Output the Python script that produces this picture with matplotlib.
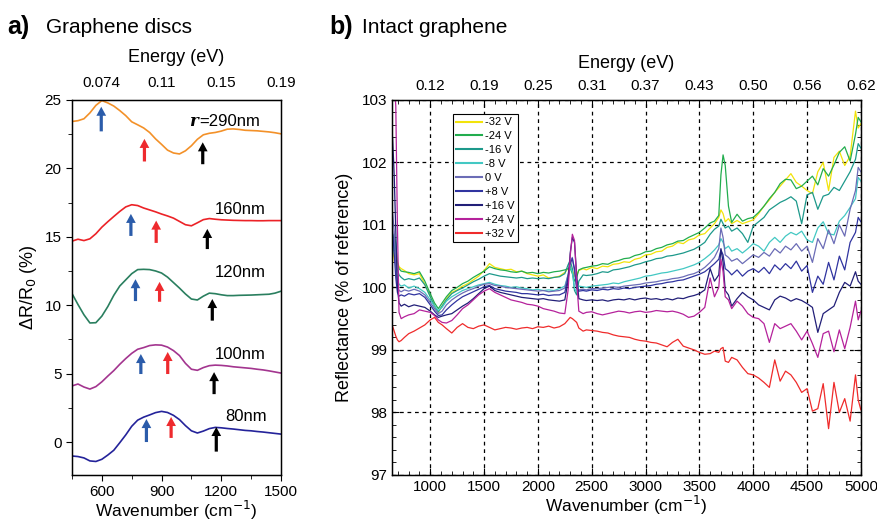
import matplotlib.pyplot as plt
from matplotlib.ticker import MultipleLocator

plt.rcParams['font.family'] = ['Liberation Sans', 'DejaVu Sans']

# ---------------- panel a : graphene discs ----------------
wn_a = [450, 480, 510, 540, 570, 600, 630, 660, 690, 720, 750, 780, 810, 840, 870, 900,
        930, 960, 990, 1020, 1050, 1080, 1110, 1140, 1170, 1200, 1230, 1260, 1290, 1320,
        1350, 1380, 1410, 1440, 1470, 1500]
r290 = [23.42, 23.48, 23.62, 24.05, 24.6, 24.95, 24.78, 24.55, 24.22, 23.85, 23.4, 23.18,
        22.95, 22.62, 22.15, 21.75, 21.33, 21.12, 21.05, 21.28, 21.65, 22.12, 22.45, 22.56,
        22.62, 22.72, 22.86, 22.88, 22.84, 22.78, 22.76, 22.74, 22.7, 22.66, 22.6, 22.52]
r160 = [14.68, 14.82, 14.72, 14.85, 15.22, 15.7, 16.1, 16.48, 16.85, 17.18, 17.34, 17.28,
        17.1, 16.96, 16.82, 16.66, 16.52, 16.36, 16.12, 15.88, 15.8, 16.02, 16.25, 16.33,
        16.28, 16.24, 16.22, 16.2, 16.19, 16.18, 16.18, 16.17, 16.17, 16.18, 16.18, 16.18]
r120 = [10.85, 10.05, 9.3, 8.7, 8.72, 9.2, 9.9, 10.72, 11.4, 11.85, 12.3, 12.6,
        12.62, 12.6, 12.5, 12.35, 12.05, 11.65, 11.25, 10.82, 10.45, 10.38, 10.66, 10.88,
        10.84, 10.76, 10.7, 10.7, 10.72, 10.73, 10.74, 10.76, 10.78, 10.8, 10.88, 11.02]
r100 = [4.1, 4.24, 4.02, 3.87, 4.05, 4.4, 4.82, 5.22, 5.68, 6.1, 6.48, 6.78,
        6.9, 7.05, 7.1, 7.08, 6.94, 6.68, 6.32, 5.75, 5.32, 5.24, 5.44, 5.58,
        5.62, 5.6, 5.56, 5.5, 5.46, 5.42, 5.38, 5.32, 5.27, 5.2, 5.12, 5.04]
r80 = [-1.02, -1.06, -1.16, -1.38, -1.42, -1.26, -0.95, -0.6, -0.05, 0.52, 1.15, 1.6,
       1.82, 1.98, 2.15, 2.24, 2.16, 1.95, 1.64, 1.2, 0.82, 0.66, 0.8, 0.98,
       1.07, 1.04, 0.99, 0.95, 0.9, 0.85, 0.82, 0.77, 0.73, 0.68, 0.63, 0.58]
disc_labels = ['160nm', '120nm', '100nm', '80nm']
disc_label_pos = [(1296, 17.0), (1296, 12.4), (1296, 6.4), (1326, 1.9)]

# arrows: x position, tail, head (one per disc size, top to bottom)
blue_arr = [(597, 22.7, 24.5), (746, 15.06, 16.67), (769, 10.3, 11.9), (796, 4.97, 6.43), (824, 0.0, 1.68)]
red_arr = [(814, 20.5, 22.15), (873, 14.55, 16.18), (890, 10.25, 11.7), (931, 4.97, 6.58), (948, 0.3, 1.83)]
black_arr = [(1107, 20.3, 21.9), (1130, 14.1, 15.57), (1155, 8.87, 10.45), (1164, 3.5, 5.11), (1175, -0.7, 1.1)]

# ---------------- panel b : intact graphene ----------------
wn_b = [650, 665, 680, 695, 710, 730, 760, 800, 850, 900,
        950, 1000, 1040, 1075, 1110, 1150, 1200, 1250, 1300, 1350,
        1400, 1450, 1500, 1550, 1600, 1650, 1700, 1750, 1800, 1850,
        1900, 1950, 2000, 2050, 2100, 2150, 2200, 2250, 2280, 2300,
        2320, 2340, 2360, 2380, 2420, 2450, 2500, 2550, 2600, 2650,
        2700, 2750, 2800, 2850, 2900, 2950, 3000, 3050, 3100, 3150,
        3200, 3250, 3300, 3350, 3400, 3450, 3500, 3550, 3600, 3640,
        3680, 3700, 3720, 3740, 3770, 3800, 3850, 3900, 3950, 4000,
        4050, 4100, 4150, 4200, 4250, 4300, 4350, 4400, 4450, 4500,
        4550, 4600, 4650, 4700, 4750, 4800, 4850, 4900, 4950, 4975,
        5000]
m32 = [100.40, 100.62, 100.66, 100.42, 100.33, 100.30, 100.27, 100.22, 100.20, 100.22,
       100.05, 99.86, 99.70, 99.60, 99.70, 99.82, 99.92, 99.96, 100.02, 100.06,
       100.12, 100.18, 100.27, 100.38, 100.32, 100.30, 100.28, 100.29, 100.25, 100.26,
       100.22, 100.20, 100.18, 100.20, 100.15, 100.16, 100.18, 100.24, 100.30, 100.33,
       100.28, 100.18, 100.20, 100.27, 100.30, 100.28, 100.32, 100.30, 100.34, 100.33,
       100.37, 100.38, 100.41, 100.40, 100.45, 100.47, 100.52, 100.53, 100.57, 100.58,
       100.64, 100.66, 100.72, 100.70, 100.76, 100.78, 100.84, 100.86, 100.95, 101.02,
       101.12, 101.24, 101.18, 101.05, 101.10, 101.02, 101.07, 101.02, 101.05, 101.08,
       101.18, 101.30, 101.40, 101.52, 101.62, 101.72, 101.82, 101.68, 101.62, 101.55,
       101.50, 101.85, 102.00, 101.55, 102.08, 102.18, 101.95, 102.10, 102.82, 102.55,
       102.62]
m24 = [100.55, 100.85, 100.70, 100.40, 100.30, 100.26, 100.25, 100.24, 100.22, 100.25,
       100.10, 99.90, 99.75, 99.66, 99.75, 99.85, 99.95, 100.00, 100.06, 100.10,
       100.16, 100.21, 100.26, 100.33, 100.30, 100.28, 100.27, 100.25, 100.24, 100.26,
       100.23, 100.24, 100.22, 100.24, 100.23, 100.25, 100.26, 100.28, 100.30, 100.31,
       100.22, 100.10, 100.16, 100.28, 100.31, 100.32, 100.34, 100.35, 100.38, 100.37,
       100.41, 100.43, 100.46, 100.47, 100.51, 100.53, 100.57, 100.58, 100.62, 100.64,
       100.68, 100.70, 100.74, 100.75, 100.80, 100.84, 100.88, 100.95, 101.03, 101.06,
       101.15, 101.80, 102.12, 101.95, 101.30, 101.04, 101.17, 101.06, 101.10, 101.12,
       101.20, 101.30, 101.42, 101.52, 101.66, 101.73, 101.72, 101.58, 101.62, 101.70,
       101.78, 101.64, 101.90, 101.78, 101.96, 102.16, 102.25, 102.02, 102.45, 102.72,
       102.65]
m16 = [100.60, 100.83, 100.55, 100.28, 100.20, 100.16, 100.12, 100.14, 100.12, 100.15,
       100.04, 99.85, 99.70, 99.61, 99.70, 99.80, 99.90, 99.95, 99.99, 100.04,
       100.09, 100.13, 100.18, 100.22, 100.20, 100.18, 100.17, 100.16, 100.15, 100.16,
       100.14, 100.15, 100.14, 100.15, 100.14, 100.16, 100.17, 100.22, 100.36, 100.43,
       100.30, 99.95, 99.88, 100.10, 100.20, 100.19, 100.20, 100.22, 100.25, 100.24,
       100.28, 100.29, 100.31, 100.33, 100.36, 100.38, 100.41, 100.43, 100.46, 100.47,
       100.50, 100.51, 100.53, 100.55, 100.58, 100.61, 100.66, 100.72, 100.85, 100.93,
       100.98, 101.09, 101.02, 100.95, 100.98, 100.90, 100.95, 100.86, 100.72, 100.98,
       101.05, 101.12, 101.24, 101.30, 101.36, 101.40, 101.45, 101.38, 101.02, 101.48,
       101.52, 101.25, 101.46, 101.49, 101.60, 101.55, 101.70, 101.85, 102.05, 102.30,
       102.23]
m8 = [100.50, 100.78, 100.45, 100.12, 100.05, 100.02, 100.04, 99.99, 100.02, 99.98,
      99.92, 99.80, 99.70, 99.63, 99.68, 99.78, 99.85, 99.90, 99.95, 99.98,
      100.01, 100.04, 100.06, 100.08, 100.05, 100.03, 100.02, 100.00, 100.01, 99.99,
      99.98, 99.96, 99.97, 99.95, 99.96, 99.95, 99.98, 100.02, 100.20, 100.33,
      100.25, 99.98, 99.93, 100.02, 100.01, 100.00, 100.02, 100.03, 100.04, 100.05,
      100.07, 100.06, 100.09, 100.11, 100.13, 100.15, 100.18, 100.19, 100.21, 100.23,
      100.24, 100.26, 100.28, 100.30, 100.33, 100.36, 100.40, 100.46, 100.53, 100.60,
      100.68, 100.78, 100.72, 100.62, 100.66, 100.58, 100.62, 100.55, 100.62, 100.70,
      100.66, 100.58, 100.72, 100.80, 100.72, 100.82, 100.88, 100.84, 100.90, 100.76,
      100.72, 100.95, 101.05, 100.86, 100.84, 101.06, 101.15, 101.28, 101.42, 101.76,
      101.70]
z0 = [101.20, 100.90, 100.35, 100.02, 99.95, 99.93, 99.96, 99.94, 99.97, 99.94,
      99.88, 99.76, 99.66, 99.58, 99.62, 99.72, 99.80, 99.86, 99.91, 99.95,
      99.98, 100.02, 100.05, 100.06, 100.03, 100.02, 100.00, 99.99, 99.98, 99.97,
      99.96, 99.95, 99.94, 99.95, 99.93, 99.94, 99.95, 99.99, 100.20, 100.42,
      100.48, 100.25, 100.00, 99.96, 99.97, 99.96, 99.98, 99.98, 99.99, 100.00,
      100.01, 100.00, 100.02, 100.03, 100.04, 100.05, 100.07, 100.08, 100.09, 100.11,
      100.12, 100.14, 100.15, 100.17, 100.20, 100.22, 100.26, 100.32, 100.40, 100.48,
      100.62, 100.95, 100.80, 100.52, 100.48, 100.42, 100.46, 100.38, 100.45, 100.52,
      100.48, 100.56, 100.50, 100.62, 100.55, 100.66, 100.60, 100.70, 100.58, 100.66,
      100.40, 100.78, 100.62, 100.92, 100.70, 101.00, 100.82, 101.25, 101.55, 101.92,
      101.85]
p8 = [100.90, 100.55, 100.15, 99.92, 99.86, 99.88, 99.86, 99.90, 99.88, 99.90,
      99.84, 99.72, 99.62, 99.55, 99.56, 99.64, 99.72, 99.79, 99.85, 99.89,
      99.93, 99.97, 100.01, 100.03, 99.98, 99.96, 99.94, 99.93, 99.92, 99.90,
      99.90, 99.89, 99.88, 99.89, 99.87, 99.88, 99.88, 99.92, 100.15, 100.38,
      100.46, 100.30, 99.98, 99.94, 99.95, 99.94, 99.96, 99.95, 99.97, 99.96,
      99.98, 99.97, 99.99, 99.98, 100.00, 100.01, 100.02, 100.03, 100.05, 100.06,
      100.08, 100.09, 100.11, 100.12, 100.15, 100.18, 100.21, 100.25, 100.32, 100.38,
      100.45, 100.60, 100.52, 100.30, 100.26, 100.20, 100.28, 100.18, 100.26, 100.30,
      100.24, 100.32, 100.22, 100.36, 100.28, 100.38, 100.30, 100.42, 100.26, 100.35,
      99.92, 100.18, 100.05, 100.40, 100.12, 100.50, 100.28, 100.72, 100.88, 101.12,
      101.05]
p16 = [102.40, 101.80, 100.90, 100.00, 99.75, 99.70, 99.73, 99.69, 99.72, 99.70,
       99.68, 99.62, 99.56, 99.52, 99.54, 99.56, 99.58, 99.64, 99.70, 99.75,
       99.82, 99.90, 99.98, 100.02, 99.95, 99.92, 99.90, 99.88, 99.86, 99.84,
       99.83, 99.82, 99.81, 99.82, 99.80, 99.79, 99.78, 99.80, 100.10, 100.55,
       100.80, 100.72, 100.20, 99.82, 99.80, 99.79, 99.80, 99.79, 99.80, 99.78,
       99.80, 99.81, 99.80, 99.82, 99.80, 99.82, 99.83, 99.81, 99.82, 99.80,
       99.82, 99.80, 99.83, 99.82, 99.85, 99.87, 99.90, 99.96, 100.30, 100.10,
       100.20, 100.62, 100.40, 99.95, 99.88, 99.70, 99.82, 99.92, 99.85, 99.80,
       99.72, 99.68, 99.64, 99.80, 99.86, 99.83, 99.78, 99.82, 99.79, 99.74,
       99.68, 99.28, 99.58, 99.64, 99.70, 99.92, 100.08, 100.02, 100.25, 100.10,
       100.05]
p24 = [103.50, 103.30, 102.90, 101.00, 99.60, 99.50, 99.53, 99.56, 99.58, 99.64,
       99.62, 99.60, 99.55, 99.48, 99.44, 99.43, 99.47, 99.56, 99.66, 99.72,
       99.80, 99.88, 99.94, 99.98, 99.92, 99.88, 99.84, 99.80, 99.78, 99.76,
       99.73, 99.72, 99.70, 99.66, 99.64, 99.62, 99.59, 99.58, 99.95, 100.50,
       100.85, 100.75, 100.10, 99.62, 99.58, 99.60, 99.61, 99.58, 99.56, 99.58,
       99.60, 99.62, 99.61, 99.59, 99.61, 99.62, 99.60, 99.61, 99.63, 99.62,
       99.61, 99.62, 99.60, 99.57, 99.52, 99.54, 99.60, 99.68, 100.15, 99.85,
       100.00, 100.45, 100.25, 99.85, 99.80, 99.66, 99.78, 99.70, 99.58, 99.52,
       99.50, 99.42, 99.12, 99.42, 99.34, 99.38, 99.42, 99.30, 99.16, 99.30,
       99.10, 98.88, 99.26, 99.30, 98.97, 99.32, 99.02, 99.36, 99.78, 99.48,
       99.62]
p32 = [99.38, 99.30, 99.22, 99.16, 99.13, 99.15, 99.20, 99.26, 99.30, 99.35,
       99.40, 99.48, 99.52, 99.44, 99.40, 99.34, 99.27, 99.36, 99.42, 99.36,
       99.34, 99.38, 99.40, 99.36, 99.32, 99.34, 99.36, 99.35, 99.33, 99.35,
       99.36, 99.34, 99.37, 99.36, 99.38, 99.35, 99.37, 99.42, 99.48, 99.52,
       99.50, 99.47, 99.44, 99.35, 99.30, 99.32, 99.31, 99.30, 99.28, 99.27,
       99.24, 99.22, 99.21, 99.20, 99.17, 99.15, 99.14, 99.12, 99.11, 99.08,
       99.05, 99.12, 99.17, 99.06, 99.03, 99.00, 98.96, 98.93, 98.94, 98.98,
       98.96, 99.02, 99.04, 98.82, 98.80, 98.88, 98.84, 98.72, 98.62, 98.60,
       98.55, 98.48, 98.40, 98.84, 98.50, 98.66, 98.60, 98.48, 98.32, 98.38,
       98.02, 98.06, 98.46, 97.74, 98.48, 98.00, 98.22, 97.86, 98.60, 98.20,
       98.04]
gate_labels = ['-32 V', '-24 V', '-16 V', '-8 V', '0 V', '+8 V', '+16 V', '+24 V', '+32 V']
energy_a = ['0.074', '0.11', '0.15', '0.19']
energy_b = ['0.12', '0.19', '0.25', '0.31', '0.37', '0.43', '0.50', '0.56', '0.62']

fig = plt.figure(figsize=(8.78, 5.23), dpi=100)

# ---- panel a
axa = fig.add_axes([0.082, 0.092, 0.238, 0.717])
disc_colors = ['#f39129', '#ec2227', '#2a7f5f', '#a3358f', '#24239a']
for ys, c in zip([r290, r160, r120, r100, r80], disc_colors):
    axa.plot(wn_a, ys, color=c, lw=1.2)
for arrs, c in [(blue_arr, '#2b5caa'), (red_arr, '#ee2a2e'), (black_arr, 'black')]:
    for x, y0, y1 in arrs:
        axa.annotate('', xy=(x, y1), xytext=(x, y0),
                     arrowprops=dict(facecolor=c, edgecolor='none', width=2.3,
                                     headwidth=7, headlength=6.5, shrink=0))
axa.text(1040, 23.45, 'r', family='DejaVu Serif', style='italic', weight='bold',
         fontsize=12, va='center', ha='left')
axa.text(1090, 23.45, '=290nm', fontsize=12, va='center', ha='left')
for lab, (x, y) in zip(disc_labels, disc_label_pos):
    axa.text(x, y, lab, fontsize=12, ha='center', va='center')
axa.set_xlim(450, 1500)
axa.set_ylim(-2.4, 25)
axa.set_xticks([600, 900, 1200, 1500])
axa.xaxis.set_minor_locator(MultipleLocator(150))
axa.set_yticks([0, 5, 10, 15, 20, 25])
axa.yaxis.set_minor_locator(MultipleLocator(2.5))
axa.tick_params(which='both', direction='out', labelsize=11, length=4)
axa.tick_params(which='minor', length=3)
axa.set_xlabel('Wavenumber (cm$^{-1}$)', fontsize=12.5, labelpad=0)
axa.set_ylabel('ΔR/R$_0$ (%)', fontsize=13, labelpad=4)
axa2 = axa.twiny()
axa2.set_xlim(axa.get_xlim())
axa2.set_xticks([600, 900, 1200, 1500], energy_a)
axa2.tick_params(length=0, labelsize=11, pad=7)
axa2.set_xlabel('Energy (eV)', fontsize=13, labelpad=10)

# ---- panel b
axb = fig.add_axes([0.4465, 0.092, 0.534, 0.717])
gate_colors = ['#f2e30a', '#22ad4e', '#1d998b', '#43c8c3', '#6b6cb6',
               '#3034a0', '#221f78', '#b5229b', '#ef2b2b']
for ys, c, lab in zip([m32, m24, m16, m8, z0, p8, p16, p24, p32], gate_colors, gate_labels):
    axb.plot(wn_b, ys, color=c, lw=0.9, label=lab)
axb.set_xlim(645, 5000)
axb.set_ylim(97, 103)
axb.set_xticks([1000, 1500, 2000, 2500, 3000, 3500, 4000, 4500, 5000])
axb.xaxis.set_minor_locator(MultipleLocator(100))
axb.set_yticks([97, 98, 99, 100, 101, 102, 103])
axb.yaxis.set_minor_locator(MultipleLocator(0.2))
axb.grid(True, which='major', color='black', ls=(0, (3, 3)), lw=0.9)
axb.tick_params(which='both', direction='in', right=True, labelsize=11, length=5)
axb.tick_params(which='minor', length=3)
axb.set_xlabel('Wavenumber (cm$^{-1}$)', fontsize=12.5, labelpad=0)
axb.set_ylabel('Reflectance (% of reference)', fontsize=13, labelpad=6)
axb2 = axb.twiny()
axb2.set_xlim(axb.get_xlim())
axb2.set_xticks([1000, 1500, 2000, 2500, 3000, 3500, 4000, 4500, 5000], energy_b)
axb2.xaxis.set_minor_locator(MultipleLocator(100))
axb2.tick_params(which='both', direction='in', labelsize=11, length=5, pad=5)
axb2.tick_params(which='minor', length=3)
axb2.set_xlabel('Energy (eV)', fontsize=13, labelpad=8)
leg = axb.legend(loc='upper left', bbox_to_anchor=(0.13, 0.962), fontsize=8,
                 frameon=True, fancybox=False, handlelength=2.3, handletextpad=0.3,
                 labelspacing=0.35, borderpad=0.3, borderaxespad=0)
leg.get_frame().set_edgecolor('black')
leg.get_frame().set_linewidth(0.8)
leg.get_frame().set_alpha(1)
for line in leg.get_lines():
    line.set_linewidth(1.5)

for ax in (axa, axb):
    for s in ax.spines.values():
        s.set_linewidth(1.0)

fig.text(0.008, 0.935, 'a)', fontsize=18, weight='bold')
fig.text(0.052, 0.937, 'Graphene discs', fontsize=15)
fig.text(0.375, 0.935, 'b)', fontsize=18, weight='bold')
fig.text(0.412, 0.937, 'Intact graphene', fontsize=15)

fig.savefig('out.png', dpi=100)
